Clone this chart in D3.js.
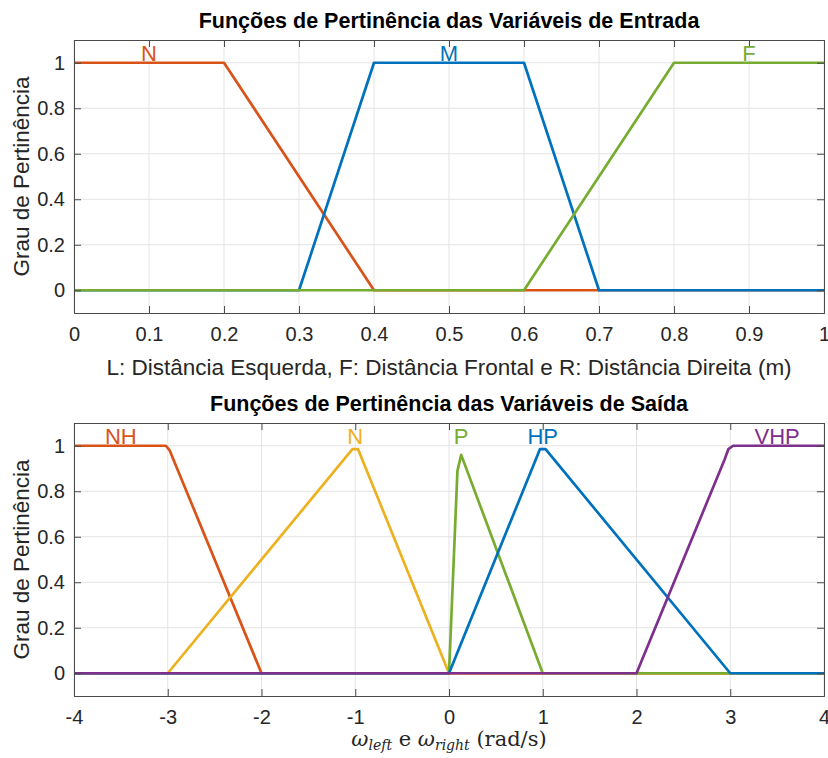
<!DOCTYPE html>
<html>
<head>
<meta charset="utf-8">
<script src="https://cdn.jsdelivr.net/npm/d3@7"></script>
<style>
  body { margin: 0; background: #fff; }
  svg text { font-family: Arial, "Liberation Sans", Helvetica, sans-serif; }
</style>
</head>
<body>
<svg id="chart" width="828" height="758"></svg>
<script>
// ---- data ----
const inTicksX = [0, 0.1, 0.2, 0.3, 0.4, 0.5, 0.6, 0.7, 0.8, 0.9, 1];
const outTicksX = [-4, -3, -2, -1, 0, 1, 2, 3, 4];
const ticksY = [0, 0.2, 0.4, 0.6, 0.8, 1];

const inNames = ["N", "M", "F"];
const inLabelX = [0.1, 0.5, 0.9];
const inN = [[0, 1], [0.2, 1], [0.4, 0], [1, 0]];
const inM = [[0, 0], [0.3, 0], [0.4, 1], [0.6, 1], [0.7, 0], [1, 0]];
const inF = [[0, 0], [0.6, 0], [0.8, 1], [1, 1]];

const outNames = ["NH", "N", "P", "HP", "VHP"];
const outLabelX = [-3.5, -1, 0.13, 1, 3.5];
const outNH = [[-4, 1], [-3.02, 1], [-2.98, 0.98], [-2.94, 0.94], [-2, 0], [4, 0]];
const outN = [[-4, 0], [-3, 0], [-1.03, 0.985], [-0.97, 0.985], [0, 0], [4, 0]];
const outP = [[-4, 0], [0, 0], [0.09, 0.89], [0.13, 0.96], [1, 0], [4, 0]];
const outHP = [[-4, 0], [0, 0], [0.97, 0.985], [1.03, 0.985], [3, 0], [4, 0]];
const outVHP = [[-4, 0], [2, 0], [2.94, 0.94], [2.98, 0.985], [3.03, 1], [4, 1]];

const orange = "#D95319", blue = "#0072BD", green = "#77AC30", yellow = "#EDB120", purple = "#7E2F8E";

const svg = d3.select("#chart");
const fmt = d => d3.format("~g")(d).replace("−", "-");

function panel(opts) {
    const { top, bottom, left, right, xDomain, xTicks, series, colors, names, labelX, title, xlabel } = opts;
    const x = d3.scaleLinear().domain(xDomain).range([left, right]);
    const y = d3.scaleLinear().domain([-0.1, 1.1]).range([bottom, top]);
    const g = svg.append("g");

    // grid
    g.append("g").selectAll("line").data(xTicks).enter().append("line")
        .attr("x1", d => x(d)).attr("x2", d => x(d))
        .attr("y1", top).attr("y2", bottom)
        .attr("stroke", "#e3e3e3").attr("stroke-width", 1);
    g.append("g").selectAll("line").data(ticksY).enter().append("line")
        .attr("y1", d => y(d)).attr("y2", d => y(d))
        .attr("x1", left).attr("x2", right)
        .attr("stroke", "#e3e3e3").attr("stroke-width", 1);

    // series
    const line = d3.line().x(d => x(d[0])).y(d => y(d[1]));
    series.forEach((s, i) => {
        g.append("path").datum(s).attr("d", line)
            .attr("fill", "none").attr("stroke", colors[i])
            .attr("stroke-width", 2.7).attr("stroke-linejoin", "round");
    });

    // axes (ticks inside, boxed)
    const axB = d3.axisBottom(x).tickValues(xTicks).tickSize(-7).tickPadding(14).tickFormat(fmt);
    const axT = d3.axisTop(x).tickValues(xTicks).tickSize(-7).tickFormat("");
    const axL = d3.axisLeft(y).tickValues(ticksY).tickSize(-7).tickPadding(9).tickFormat(fmt);
    const axR = d3.axisRight(y).tickValues(ticksY).tickSize(-7).tickFormat("");
    [[axB, `translate(0,${bottom})`], [axT, `translate(0,${top})`],
     [axL, `translate(${left},0)`], [axR, `translate(${right},0)`]].forEach(([ax, tr]) => {
        const a = g.append("g").attr("transform", tr).call(ax);
        a.select(".domain").attr("stroke", "#4a4a4a").attr("stroke-width", 1);
        a.selectAll(".tick line").attr("stroke", "#4a4a4a");
        a.selectAll(".tick text").attr("fill", "#262626").style("font-size", "20px")
            .style("font-family", "Arial, 'Liberation Sans', sans-serif");
    });

    // labels of the sets
    g.append("g").selectAll("text").data(names).enter().append("text")
        .attr("x", (d, i) => x(labelX[i])).attr("y", y(1) - 2)
        .attr("text-anchor", "middle").attr("fill", (d, i) => colors[i])
        .style("font-size", "22px").text(d => d);

    // title
    g.append("text").attr("x", (left + right) / 2).attr("y", top - 12)
        .attr("text-anchor", "middle").style("font-size", "21.5px").style("font-weight", "bold")
        .attr("fill", "#000").text(title);

    // y label
    g.append("text").attr("transform", `translate(29,${(top + bottom) / 2}) rotate(-90)`)
        .attr("text-anchor", "middle").style("font-size", "22.5px").attr("fill", "#262626")
        .text("Grau de Pertinência");

    xlabel(g, (left + right) / 2, bottom);
}

panel({
    top: 40, bottom: 313, left: 74, right: 824,
    xDomain: [0, 1], xTicks: inTicksX,
    series: [inN, inM, inF], colors: [orange, blue, green],
    names: inNames, labelX: inLabelX,
    title: "Funções de Pertinência das Variáveis de Entrada",
    xlabel: (g, cx, b) => g.append("text").attr("x", cx).attr("y", b + 62)
        .attr("text-anchor", "middle").style("font-size", "22.5px").attr("fill", "#262626")
        .text("L: Distância Esquerda, F: Distância Frontal e R: Distância Direita (m)")
});

panel({
    top: 423, bottom: 696, left: 74, right: 824,
    xDomain: [-4, 4], xTicks: outTicksX,
    series: [outNH, outN, outP, outHP, outVHP], colors: [orange, yellow, green, blue, purple],
    names: outNames, labelX: outLabelX,
    title: "Funções de Pertinência das Variáveis de Saída",
    xlabel: (g, cx, b) => {
        const t = g.append("text").attr("x", cx).attr("y", b + 50)
            .attr("text-anchor", "middle").attr("fill", "#262626")
            .style("font-family", "'DejaVu Serif', 'Liberation Serif', serif").style("font-size", "21px");
        t.append("tspan").style("font-style", "italic").text("ω");
        t.append("tspan").style("font-style", "italic").style("font-size", "14px").attr("dy", 4).text("left");
        t.append("tspan").attr("dy", -4).text(" e ");
        t.append("tspan").style("font-style", "italic").text("ω");
        t.append("tspan").style("font-style", "italic").style("font-size", "14px").attr("dy", 4).text("right");
        t.append("tspan").attr("dy", -4).text(" (rad/s)");
    }
});
</script>
</body>
</html>
